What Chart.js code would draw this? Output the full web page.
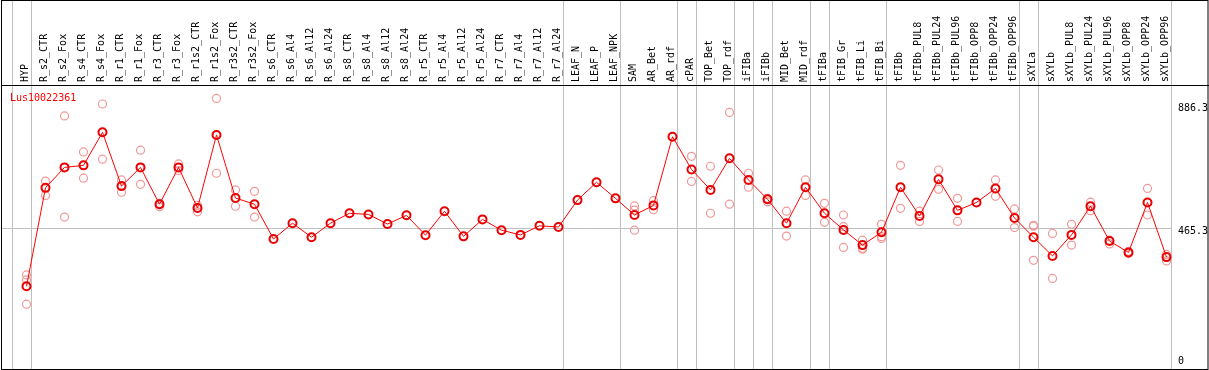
<!DOCTYPE html>
<html>
<head>
<meta charset="utf-8">
<script src="https://cdn.jsdelivr.net/npm/chart.js@4"></script>
<style>
  body { margin: 0; background: #fff; }
  #wrap { width: 1209px; height: 370px; }
</style>
</head>
<body>
<div id="wrap"><canvas id="geneChart"></canvas></div>
<script>
// expression profile for one gene across tissues / treatments
var geneName = 'Lus10022361';

var categories = ['HYP','R_s2_CTR','R_s2_Fox','R_s4_CTR','R_s4_Fox','R_r1_CTR','R_r1_Fox','R_r3_CTR','R_r3_Fox',
  'R_r1s2_CTR','R_r1s2_Fox','R_r3s2_CTR','R_r3s2_Fox','R_s6_CTR','R_s6_Al4','R_s6_Al12','R_s6_Al24',
  'R_s8_CTR','R_s8_Al4','R_s8_Al12','R_s8_Al24','R_r5_CTR','R_r5_Al4','R_r5_Al12','R_r5_Al24',
  'R_r7_CTR','R_r7_Al4','R_r7_Al12','R_r7_Al24','LEAF_N','LEAF_P','LEAF_NPK','SAM','AR_Bet','AR_rdf',
  'cPAR','TOP_Bet','TOP_rdf','iFIBa','iFIBb','MID_Bet','MID_rdf','tFIBa','tFIB_Gr','tFIB_Li','tFIB_Bi',
  'tFIBb','tFIBb_PUL8','tFIBb_PUL24','tFIBb_PUL96','tFIBb_OPP8','tFIBb_OPP24','tFIBb_OPP96',
  'sXYLa','sXYLb','sXYLb_PUL8','sXYLb_PUL24','sXYLb_PUL96','sXYLb_OPP8','sXYLb_OPP24','sXYLb_OPP96'];

// mean expression per sample
var means = [266,603,673,680,793,609,673,547,673,534,784,568,547,428,482,434,482,516,512,479,509,441,523,437,495,
  458,442,473,469,561,622,567,510,543,778,666,596,704,630,564,482,605,516,459,407,451,
  605,507,632,526,553,601,500,434,370,442,540,421,382,553,366];

// individual replicates per sample (empty where none visible)
var replicates = [[305,288,205],[626,577],[849,503],[726,636],[890,701],[630,588],[732,615],[550,538],[685,662],
  [543,521],[909,653],[596,540],[591,503],[],[],[],[],[],[],[],[],[],[],[],[],[],[],[],[],[],[],[],
  [541,527,458],[559,528],[],[711,625],[677,516],[861,547],[653,605],[567,555],[523,438],[630,577],[550,485],
  [510,470,399],[424,396,393],[478,436,430],[680,533],[523,488],[664,598],[567,488],[],[630,574],[531,467],
  [475,472,355],[447,293],[478,407],[554,525],[424,411],[386,378],[601,510],[375,353]];

// y axis labels
var yTicks = [0, 465.3, 886.3];

// sample indices followed by a group separator (-1 = before first sample)
var separators = [-1, 0, 28, 31, 34, 35, 37, 38, 39, 41, 42, 45, 52, 53, 60];

var repPoints = [];
replicates.forEach(function (reps, i) {
  reps.forEach(function (v) { repPoints.push({x: categories[i], y: v}); });
});

var frame = {
  id: 'frame',
  beforeDatasetsDraw: function (chart) {
    var c = chart.ctx, x = chart.scales.x, y = chart.scales.y, a = chart.chartArea;
    var step = x.getPixelForValue(1) - x.getPixelForValue(0);
    c.save();
    c.strokeStyle = '#c0c0c0';
    c.lineWidth = 1;
    var lastSep = 0;
    separators.forEach(function (i) {
      var px = Math.round(x.getPixelForValue(i) + step * 0.23) + 0.5;
      lastSep = px;
      c.beginPath(); c.moveTo(px, 0); c.lineTo(px, a.bottom); c.stroke();
    });
    var gy = Math.round(y.getPixelForValue(yTicks[1])) + 0.5;
    c.beginPath(); c.moveTo(2, gy); c.lineTo(lastSep, gy); c.stroke();
    c.restore();
  },
  afterDraw: function (chart) {
    var c = chart.ctx, a = chart.chartArea;
    c.save();
    c.strokeStyle = '#000';
    c.lineWidth = 1;
    c.strokeRect(1.5, 0.5, chart.width - 2.5, a.bottom);
    c.beginPath(); c.moveTo(1, a.top + 0.5); c.lineTo(chart.width, a.top + 0.5); c.stroke();
    c.fillStyle = '#ff0000';
    c.font = '10px "DejaVu Sans Mono"';
    c.textBaseline = 'top';
    c.fillText(geneName, 10, a.top + 8);
    c.restore();
  }
};

new Chart(document.getElementById('geneChart'), {
  data: {
    labels: categories,
    datasets: [{
      type: 'line',
      data: means,
      borderColor: '#ff0000',
      borderWidth: 1,
      pointRadius: 4,
      pointBorderWidth: 2,
      pointBorderColor: '#e80000',
      pointBackgroundColor: 'rgba(0,0,0,0)',
      tension: 0
    }, {
      type: 'scatter',
      data: repPoints,
      showLine: false,
      pointRadius: 4,
      pointBorderWidth: 1.2,
      pointBorderColor: '#f09898',
      pointBackgroundColor: 'rgba(0,0,0,0)'
    }]
  },
  options: {
    responsive: true,
    maintainAspectRatio: false,
    animation: false,
    layout: { autoPadding: false, padding: { left: 17, bottom: 1 } },
    plugins: { legend: { display: false }, tooltip: { enabled: false } },
    scales: {
      x: {
        type: 'category',
        position: 'top',
        offset: true,
        grid: { display: false, drawTicks: false },
        border: { display: false },
        ticks: {
          autoSkip: false, minRotation: 90, maxRotation: 90, padding: 3, labelOffset: 11,
          color: '#000', font: { family: 'DejaVu Sans Mono', size: 10 }
        },
        afterFit: function (s) { s.height = 85; s.paddingLeft = 0; s.paddingRight = 0; }
      },
      y: {
        position: 'right',
        min: -17,
        max: 955,
        grid: { display: false, drawTicks: false },
        border: { display: false },
        afterBuildTicks: function (s) { s.ticks = yTicks.map(function (v) { return {value: v}; }); },
        ticks: {
          padding: 2, labelOffset: 3, color: '#000',
          font: { family: 'DejaVu Sans Mono', size: 10 },
          callback: function (v) { return v === 0 ? ['0', ''] : String(v); }
        },
        afterFit: function (s) { s.width = 33; s.paddingTop = 0; s.paddingBottom = 0; }
      }
    }
  },
  plugins: [frame]
});
</script>
</body>
</html>
